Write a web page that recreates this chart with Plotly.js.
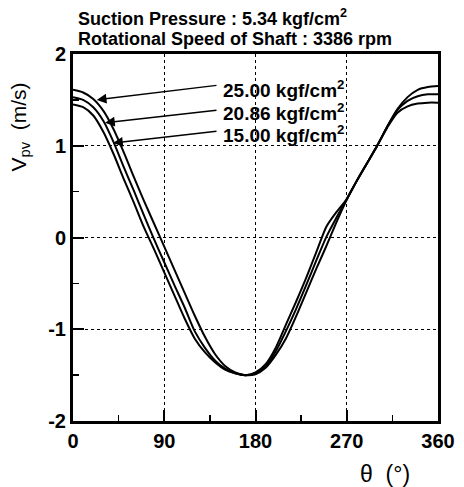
<!DOCTYPE html>
<html>
<head>
<meta charset="utf-8">
<script src="https://cdn.plot.ly/plotly-3.0.1.min.js"></script>
<style>html,body{margin:0;padding:0;background:#fff;}#chart{width:464px;height:487px;}</style>
</head>
<body>
<div id="chart"></div>
<script>
const theta = [0,10,20,30,40,50,60,70,80,90,100,110,120,130,140,150,160,170,180,190,200,210,220,230,240,250,260,270,280,290,300,310,320,330,340,350,360];
const v25 = [1.61,1.58,1.51,1.38,1.18,0.93,0.66,0.40,0.15,-0.10,-0.35,-0.60,-0.85,-1.08,-1.27,-1.40,-1.47,-1.50,-1.49,-1.42,-1.28,-1.10,-0.86,-0.60,-0.34,-0.09,0.17,0.41,0.62,0.81,1.00,1.21,1.40,1.53,1.61,1.64,1.65];
const v2086 = [1.53,1.50,1.42,1.27,1.04,0.77,0.51,0.24,-0.02,-0.27,-0.52,-0.76,-1.02,-1.20,-1.34,-1.43,-1.48,-1.50,-1.48,-1.40,-1.24,-1.02,-0.78,-0.52,-0.25,0.01,0.22,0.42,0.62,0.81,1.00,1.21,1.39,1.49,1.54,1.56,1.56];
const v15 = [1.45,1.42,1.33,1.15,0.91,0.64,0.38,0.11,-0.13,-0.38,-0.63,-0.88,-1.10,-1.25,-1.36,-1.44,-1.48,-1.50,-1.47,-1.38,-1.20,-0.95,-0.70,-0.44,-0.16,0.12,0.28,0.42,0.62,0.81,1.00,1.20,1.36,1.43,1.46,1.47,1.47];
const seriesNames = ['25.00 kgf/cm<sup>2</sup>','20.86 kgf/cm<sup>2</sup>','15.00 kgf/cm<sup>2</sup>'];
const xTicks = [0,90,180,270,360];
const yTicks = [-2,-1,0,1,2];

const FONT = '"Liberation Sans", Arial, Helvetica, sans-serif';
const line = {color:'#000', width:2, shape:'spline', smoothing:0.7};
const traces = [v25, v2086, v15].map((v,i)=>({
  x: theta, y: v, type:'scatter', mode:'lines', line: line, name: seriesNames[i], showlegend:false, hoverinfo:'skip'
}));

// arrow tips (on curves) and label anchors
const arrowTips = [[23.4,1.50],[31.6,1.25],[39.5,1.03]];
const arrowTails = [[143,1.66],[143,1.39],[143,1.16]];
const labelPos = [[146,1.62],[146,1.37],[146,1.13]];

const annotations = [];
for (let i=0;i<3;i++){
  annotations.push({x:arrowTips[i][0], y:arrowTips[i][1], xref:'x', yref:'y', ax:arrowTails[i][0], ay:arrowTails[i][1], axref:'x', ayref:'y', text:'', showarrow:true, arrowhead:2, arrowsize:1.3, arrowwidth:1.5, arrowcolor:'#000'});
  annotations.push({x:labelPos[i][0], y:labelPos[i][1], xref:'x', yref:'y', text:seriesNames[i], showarrow:false, xanchor:'left', yanchor:'middle', font:{family:FONT, size:19, color:'#000', weight:'bold'}});
}
// header
annotations.push({xref:'paper', yref:'paper', x:0.008, y:1.1, xanchor:'left', yanchor:'middle', text:'Suction Pressure : 5.34 kgf/cm<sup>2</sup>', showarrow:false, font:{family:FONT, size:18, color:'#000', weight:'bold'}});
annotations.push({xref:'paper', yref:'paper', x:0.008, y:1.042, xanchor:'left', yanchor:'middle', text:'Rotational Speed of Shaft : 3386 rpm', showarrow:false, font:{family:FONT, size:18, color:'#000', weight:'bold'}});
// axis titles
annotations.push({xref:'paper', yref:'paper', x:-0.145, y:0.8, xanchor:'center', yanchor:'middle', textangle:-90, text:'V<sub>pv</sub>  (m/s)', showarrow:false, font:{family:FONT, size:21, color:'#000'}});
annotations.push({xref:'paper', yref:'paper', x:0.856, y:-0.145, xanchor:'center', yanchor:'middle', text:'θ  (°)', showarrow:false, font:{family:FONT, size:23, color:'#000'}});

const axisCommon = {
  showline:true, linewidth:3, linecolor:'#000', mirror:true,
  ticks:'inside', ticklen:11, tickwidth:2, tickcolor:'#000',
  showgrid:true, gridcolor:'#000', griddash:'dot', gridwidth:1,
  zeroline:false,
  tickfont:{family:FONT, size:20, color:'#000', weight:'bold'}
};

const layout = {
  width:464, height:487,
  margin:{l:73, r:26, t:54, b:66},
  paper_bgcolor:'#fff', plot_bgcolor:'#fff',
  showlegend:false,
  xaxis: Object.assign({}, axisCommon, {range:[0,360], tickvals:xTicks, ticktext:xTicks.map(String),
    minor:{ticks:'inside', ticklen:6, tickwidth:1.5, tickcolor:'#000', dtick:45, tick0:0, showgrid:false}}),
  yaxis: Object.assign({}, axisCommon, {range:[-2,2], tickvals:yTicks, ticktext:yTicks.map(String),
    minor:{ticks:'inside', ticklen:6, tickwidth:1.5, tickcolor:'#000', dtick:0.5, tick0:0, showgrid:false}}),
  annotations: annotations
};

Plotly.newPlot('chart', traces, layout, {staticPlot:true, displayModeBar:false});
</script>
</body>
</html>
